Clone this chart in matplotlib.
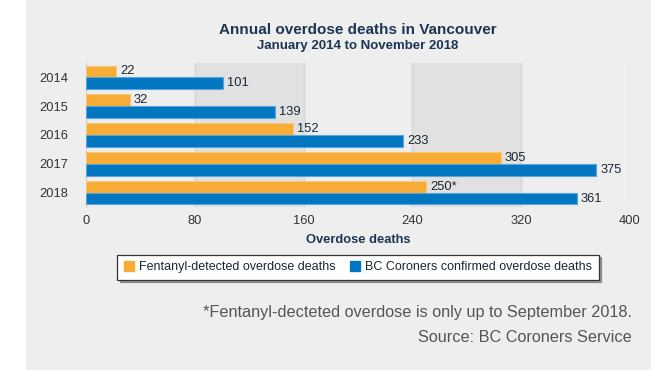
import matplotlib.pyplot as plt
import matplotlib.patches as mpatches
import numpy as np

plt.rcParams['font.family'] = ['Liberation Sans', 'DejaVu Sans']

years = ['2014', '2015', '2016', '2017', '2018']
fentanyl = [22, 32, 152, 305, 250]
confirmed = [101, 139, 233, 375, 361]
fentanyl_labels = ['22', '32', '152', '305', '250*']
confirmed_labels = ['101', '139', '233', '375', '361']
xticks = [0, 80, 160, 240, 320, 400]

navy = '#1c3553'
orange = '#f7ac36'
blue = '#0077c0'
page = '#eeeeee'

fig = plt.figure(figsize=(6.57, 3.70), dpi=100)
fig.patch.set_facecolor('white')
fig.add_artist(mpatches.Rectangle((26 / 657, 0), (651 - 26) / 657, 1, transform=fig.transFigure,
                                  facecolor=page, edgecolor='none', zorder=-10))

ax = fig.add_axes([86 / 657, 1 - 207 / 370, (630 - 86) / 657, (207 - 63) / 370])
ax.set_facecolor(page)

# alternating bands and grid
for i in range(1, len(xticks) - 1, 2):
    ax.axvspan(xticks[i], xticks[i + 1], color='#e1e1e1', zorder=0)
for t in xticks[1:]:
    ax.axvline(t, color='#d6d6d6', lw=1, zorder=1)

y = np.arange(len(years))
h = 0.41
b1 = ax.barh(y - h / 2, fentanyl, height=h, color=orange, edgecolor='#f9c67a', lw=0.8, zorder=3)
b2 = ax.barh(y + h / 2, confirmed, height=h, color=blue, edgecolor='#5aa5db', lw=0.8, zorder=3)

for yi, v, lab in zip(y, fentanyl, fentanyl_labels):
    ax.text(v + 3, yi - h / 2, lab, va='center', ha='left', fontsize=9.3, color='#1a2633')
for yi, v, lab in zip(y, confirmed, confirmed_labels):
    ax.text(v + 3, yi + h / 2, lab, va='center', ha='left', fontsize=9.3, color='#1a2633')

ax.set_xlim(0, 400)
ax.set_ylim(len(years) - 0.5, -0.5)
ax.set_xticks(xticks)
ax.set_xticklabels([str(t) for t in xticks], fontsize=9.3, color='#333333')
ax.set_yticks(y)
ax.set_yticklabels(years, fontsize=9.3, color='#333333')
ax.tick_params(length=0, pad=6)
ax.tick_params(axis='y', pad=13)
for s in ['top', 'right', 'bottom']:
    ax.spines[s].set_visible(False)
ax.spines['left'].set_color('#cfcfcf')
ax.set_xlabel('Overdose deaths', fontsize=9.3, fontweight='bold', color=navy, labelpad=5)

fig.text(358 / 657, 1 - 30 / 370, 'Annual overdose deaths in Vancouver', ha='center', va='center',
         fontsize=11, fontweight='bold', color=navy)
fig.text(358 / 657, 1 - 46 / 370, 'January 2014 to November 2018', ha='center', va='center',
         fontsize=9.5, fontweight='bold', color=navy)

handles = [mpatches.Patch(color=orange), mpatches.Patch(color=blue)]
leg = fig.legend(handles, ['Fentanyl-detected overdose deaths', 'BC Coroners confirmed overdose deaths'],
                 loc='center', bbox_to_anchor=(358 / 657, 1 - 267 / 370), ncol=2, fontsize=9,
                 frameon=True, fancybox=False, shadow=True, handlelength=0.8, handleheight=0.9,
                 handletextpad=0.4, columnspacing=1.2, borderpad=0.5)
leg.get_frame().set_edgecolor('#333333')
leg.get_frame().set_linewidth(0.9)
for t in leg.get_texts():
    t.set_color('#1a2633')

fig.text(632 / 657, 1 - 313 / 370, '*Fentanyl-decteted overdose is only up to September 2018.',
         ha='right', va='center', fontsize=11.7, color='#555555')
fig.text(632 / 657, 1 - 338 / 370, 'Source: BC Coroners Service',
         ha='right', va='center', fontsize=11.7, color='#555555')

fig.savefig('out.png', dpi=100)
